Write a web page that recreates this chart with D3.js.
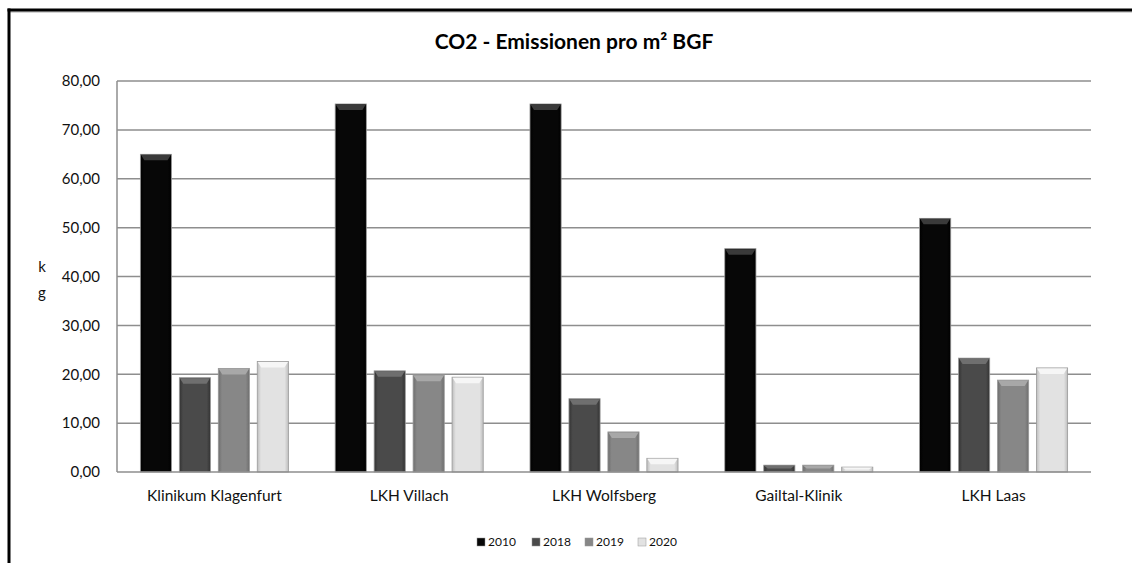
<!DOCTYPE html>
<html><head><meta charset="utf-8">
<script src="https://cdn.jsdelivr.net/npm/d3@7/dist/d3.min.js"></script>
<style>html,body{margin:0;padding:0;background:#fff;}svg{display:block;font-family:Lato,"Noto Sans",sans-serif;}</style>
</head><body><svg id="c" width="1132" height="563"></svg>
<script>
const categories = ["Klinikum Klagenfurt","LKH Villach","LKH Wolfsberg","Gailtal-Klinik","LKH Laas"];
const seriesNames = ["2010","2018","2019","2020"];
const values2010 = [65.0, 75.3, 75.3, 45.7, 51.9];
const values2018 = [19.3, 20.7, 15.0, 1.4, 23.3];
const values2019 = [21.2, 19.8, 8.2, 1.4, 18.8];
const values2020 = [22.6, 19.4, 2.8, 1.0, 21.3];
const yTicks = [0,10,20,30,40,50,60,70,80];
const title = "CO2 - Emissionen pro m² BGF";
const yLabel = ["k","g"];

(function(){
const seriesValues = [values2010, values2018, values2019, values2020];
const colors = ["#070707","#4a4a4a","#878787","#e2e2e2"];
const edge = ["#000000","#333333","#6e6e6e","#bdbdbd"];
const capCol = ["#3a3a3a","#6f6f6f","#a8a8a8","#f6f6f6"];

const svg = d3.select("#c");
const defs = svg.append("defs");
seriesNames.forEach((s,i)=>{
  const g = defs.append("linearGradient").attr("id","g"+i).attr("x1","0").attr("x2","1").attr("y1","0").attr("y2","0");
  g.append("stop").attr("offset","0").attr("stop-color",edge[i]);
  g.append("stop").attr("offset","0.12").attr("stop-color",colors[i]);
  g.append("stop").attr("offset","0.88").attr("stop-color",colors[i]);
  g.append("stop").attr("offset","1").attr("stop-color",edge[i]);
});

svg.append("line").attr("x1",9).attr("x2",1132).attr("y1",12).attr("y2",12).attr("stroke","#aaa").attr("stroke-width",1);
svg.append("line").attr("x1",7.5).attr("x2",1132).attr("y1",10).attr("y2",10).attr("stroke","#000").attr("stroke-width",3);
svg.append("line").attr("x1",9).attr("x2",9).attr("y1",8.5).attr("y2",563).attr("stroke","#000").attr("stroke-width",3);

const pL=117, pR=1091, pT=81, pB=472;
const y = d3.scaleLinear().domain([0,80]).range([pB,pT]);
const x0 = d3.scaleBand().domain(categories).range([pL,pR]).paddingInner(0.24).paddingOuter(0.12);
const x1 = d3.scaleBand().domain(seriesNames).range([0,x0.bandwidth()]).paddingInner(0.2);

const fmt = v => d3.format(".2f")(v).replace(".",",");
svg.append("g").selectAll("line").data(yTicks.filter(d=>d>0)).join("line")
  .attr("x1",pL).attr("x2",pR).attr("y1",d=>y(d)).attr("y2",d=>y(d))
  .attr("stroke","#8e8e8e").attr("stroke-width",1.5);

const yAxis = d3.axisLeft(y).tickValues(yTicks).tickFormat(fmt).tickSize(0).tickPadding(17);
const ya = svg.append("g").attr("transform",`translate(${pL},0)`).call(yAxis);
ya.attr("font-family",null).attr("font-size",null);
ya.select(".domain").remove();
ya.selectAll("text").attr("font-size",15).attr("fill","#111");
svg.append("line").attr("x1",pL).attr("x2",pL).attr("y1",pT).attr("y2",pB).attr("stroke","#8e8e8e").attr("stroke-width",1.5);

const groups = svg.append("g").selectAll("g").data(categories).join("g")
  .attr("transform",d=>`translate(${x0(d)},0)`);
seriesNames.forEach((s,si)=>{
  const bw = x1.bandwidth();
  groups.append("rect")
    .attr("x",x1(s)).attr("width",bw)
    .attr("y",(d,ci)=>y(seriesValues[si][ci]))
    .attr("height",(d,ci)=>pB - y(seriesValues[si][ci]))
    .attr("fill",`url(#g${si})`).attr("stroke","#9a9a9a").attr("stroke-width",0.8);
  groups.append("path")
    .attr("d",(d,ci)=>{
      const yt = y(seriesValues[si][ci]);
      const h = Math.min(6, (pB-yt)/2);
      const xa = x1(s);
      return `M${xa+0.5},${yt+0.5} L${xa+bw-0.5},${yt+0.5} L${xa+bw-4},${yt+h} L${xa+4},${yt+h} Z`;
    })
    .attr("fill",capCol[si]);
});
svg.append("line").attr("x1",pL).attr("x2",pR).attr("y1",pB).attr("y2",pB).attr("stroke","#8e8e8e").attr("stroke-width",1.5);

const xAxis = d3.axisBottom(x0).tickSize(0).tickPadding(18);
const xa = svg.append("g").attr("transform",`translate(0,${pB})`).call(xAxis);
xa.attr("font-family",null).attr("font-size",null);
xa.select(".domain").remove();
xa.selectAll("text").attr("font-size",15.5).attr("fill","#111");

svg.append("text").attr("x",574).attr("y",49).attr("text-anchor","middle")
  .attr("font-size",21).attr("font-weight","bold").attr("fill","#000").text(title);

svg.selectAll(".yl").data(yLabel).join("text").attr("class","yl")
  .attr("x",42).attr("y",(d,i)=>272+i*26).attr("text-anchor","middle")
  .attr("font-size",15).attr("fill","#111").text(d=>d);

const legX = [477,532,585,638];
const leg = svg.append("g").selectAll("g").data(seriesNames).join("g")
  .attr("transform",(d,i)=>`translate(${legX[i]},542)`);
leg.append("rect").attr("x",0).attr("y",-4).attr("width",8).attr("height",8)
  .attr("fill",(d,i)=>colors[i]).attr("stroke","#999").attr("stroke-width",0.5);
leg.append("text").attr("x",11).attr("y",0).attr("dy","0.35em").attr("font-size",12).attr("fill","#111").text(d=>d);
})();
</script></body></html>
